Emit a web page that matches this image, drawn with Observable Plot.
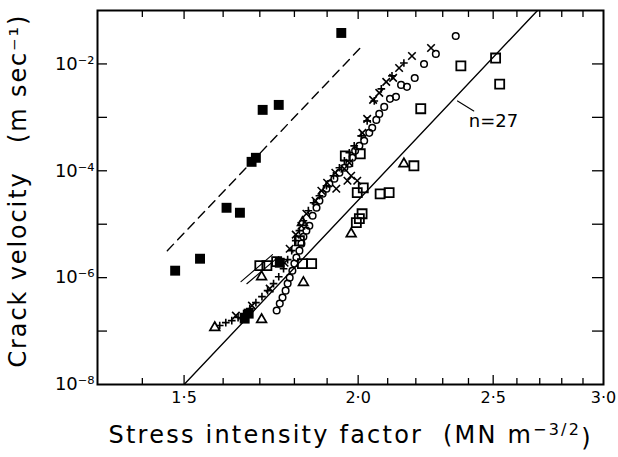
<!DOCTYPE html>
<html>
<head>
<meta charset="utf-8">
<script src="https://cdn.jsdelivr.net/npm/d3@7"></script>
<script src="https://cdn.jsdelivr.net/npm/@observablehq/plot@0.6"></script>
<style>
  html, body { margin: 0; padding: 0; background: #fff; }
  #chart { width: 618px; height: 457px; }
</style>
</head>
<body>
<div id="chart"></div>
<script>
// ---------- data (stress intensity factor K, crack velocity v) ----------
const filledK = [1.478, 1.540, 1.609, 1.645, 1.677, 1.689, 1.708, 1.754, 1.945, 1.658, 1.669, 1.757];
const filledV = [1.35e-6, 2.26e-6, 2.03e-5, 1.64e-5, 1.47e-4, 1.75e-4, 1.38e-3, 1.71e-3, 3.8e-2, 1.71e-7, 2.12e-7, 1.9e-6];

const openSqK = [2.370, 2.510, 2.527, 2.218, 2.193, 2.074, 2.105, 2.017, 1.997, 2.004, 2.013, 1.994, 1.958, 2.007, 1.700, 1.720, 1.748, 1.824, 1.852, 1.815];
const openSqV = [9.2e-3, 1.29e-2, 4.2e-3, 1.45e-3, 1.24e-4, 3.7e-5, 3.9e-5, 4.8e-5, 3.9e-5, 1.27e-5, 1.57e-5, 1.07e-5, 1.9e-4, 2.08e-4, 1.68e-6, 1.68e-6, 2.0e-6, 1.83e-6, 1.83e-6, 4.9e-6];

const triK = [1.578, 1.705, 1.705, 1.827, 1.824, 1.977, 2.157];
const triV = [1.16e-7, 1.64e-7, 1.04e-6, 8.1e-7, 1.07e-5, 6.6e-6, 1.35e-4];

const plusK = [1.591, 1.607, 1.623, 1.640, 1.655, 1.672, 1.689, 1.706, 1.722, 1.739, 1.754, 1.768, 1.780, 1.792, 1.804, 1.815, 1.827, 1.842, 1.858, 1.876, 1.898, 1.920, 1.939, 1.955, 1.971, 1.987, 2.010, 2.030, 2.054, 2.078, 2.115, 2.157];
const plusV = [1.27e-7, 1.44e-7, 1.57e-7, 1.79e-7, 2.12e-7, 2.64e-7, 3.41e-7, 4.42e-7, 5.71e-7, 7.73e-7, 1.04e-6, 1.47e-6, 2.17e-6, 3.2e-6, 4.92e-6, 7.57e-6, 1.16e-5, 1.79e-5, 2.52e-5, 3.41e-5, 5.25e-5, 8.07e-5, 1.14e-4, 1.54e-4, 2.17e-4, 2.93e-4, 4.51e-4, 8.6e-4, 2.03e-3, 3.41e-3, 5.97e-3, 1.04e-2];

const crossK = [1.634, 1.678, 1.728, 1.771, 1.786, 1.804, 1.821, 1.836, 1.864, 1.882, 1.900, 1.926, 1.929, 1.955, 1.971, 1.977, 1.965, 1.997, 2.014, 2.030, 2.050, 2.071, 2.095, 2.119, 2.140, 2.186, 2.256];
const crossV = [1.95e-7, 3.0e-7, 6.22e-7, 1.9e-6, 3.48e-6, 6.37e-6, 9.38e-6, 1.57e-5, 2.75e-5, 4.23e-5, 5.97e-5, 9.18e-5, 4.61e-5, 1.09e-4, 1.41e-4, 8.07e-5, 6.5e-5, 6.5e-5, 5.13e-4, 9.38e-4, 2.12e-3, 2.87e-3, 4.61e-3, 5.47e-3, 8.4e-3, 1.41e-2, 1.99e-2];

const circK = [1.748, 1.757, 1.765, 1.774, 1.780, 1.786, 1.794, 1.800, 1.806, 1.815, 1.821, 1.827, 1.836, 1.845, 1.855, 1.867, 1.876, 1.886, 1.898, 1.907, 1.923, 1.939, 1.955, 1.971, 1.981, 1.990, 2.004, 2.020, 2.037, 2.047, 2.061, 2.071, 2.088, 2.108, 2.129, 2.147, 2.168, 2.196, 2.230, 2.274, 2.350];
const circV = [2.42e-7, 3.27e-7, 4.23e-7, 5.71e-7, 7.73e-7, 1.0e-6, 1.35e-6, 1.83e-6, 2.37e-6, 3.2e-6, 4.33e-6, 5.84e-6, 7.57e-6, 9.38e-6, 1.44e-5, 2.03e-5, 2.75e-5, 3.72e-5, 4.61e-5, 5.71e-5, 7.08e-5, 9.18e-5, 1.14e-4, 1.35e-4, 1.75e-4, 2.37e-4, 2.93e-4, 3.64e-4, 5.13e-4, 6.37e-4, 8.97e-4, 1.16e-3, 1.57e-3, 2.22e-3, 2.42e-3, 4.05e-3, 3.72e-3, 5.47e-3, 1.0e-2, 1.54e-2, 3.33e-2];

// reference lines (slope n = 27)
const solidLineK = [1.5, 2.69];
const solidLineV = [1e-8, 1e-1];
const dashLineK = [1.459, 2.007];
const dashLineV = [3.2e-6, 1.99e-2];
const seg1K = [1.648, 1.736];
const seg1V = [8.4e-7, 2.69e-6];
const seg2K = [1.664, 1.754];
const seg2V = [7.7e-7, 2.47e-6];
const leaderK = [2.357, 2.421];
const leaderV = [2.03e-3, 1.32e-3];
const annotK = [2.401];
const annotV = [8.6e-4];
const annotText = ["n=27"];

// axes
const xDomain = [1.3, 3.0];
const yDomain = [1e-8, 1e-1];
const xMajorTicks = [1.5, 2.0, 2.5];
const xMinorTicks = [1.4, 1.6, 1.7, 1.8, 1.9, 2.1, 2.2, 2.3, 2.4, 2.6, 2.7, 2.8, 2.9];
const xLabelVals = [1.5, 2.0, 2.5, 3.0];
const xTickLabels = ["1·5", "2·0", "2·5", "3·0"];
const yTicks = [1e-7, 1e-6, 1e-5, 1e-4, 1e-3, 1e-2];
const yLabelVals = [1e-8, 1e-6, 1e-4, 1e-2];
const yTickLabels = ["10⁻⁸", "10⁻⁶", "10⁻⁴", "10⁻²"];
const xTitleMain = "Stress intensity factor  (MN m";
const xTitleSup = "−3/2";
const xTitleEnd = ")";
const yTitle = "Crack velocity   (m sec⁻¹)";

// ---------- build ----------
const zip = (ks, vs) => ks.map((k, i) => ({k, v: vs[i]}));
const W = 618, H = 457, mL = 97, mR = 15, mT = 10, mB = 73;
const iw = W - mL - mR, ih = H - mT - mB;

const svg = Plot.plot({
  width: W, height: H,
  marginLeft: mL, marginRight: mR, marginTop: mT, marginBottom: mB,
  x: {type: "log", domain: xDomain, axis: null},
  y: {type: "log", domain: yDomain, axis: null},
  style: {fontFamily: "DejaVu Sans", background: "white", color: "black"},
  marks: [
    // inward ticks
    Plot.tickY(yTicks, {y: d => d, insetRight: iw - 10, stroke: "black", strokeWidth: 1.3}),
    Plot.tickY(yTicks, {y: d => d, insetLeft: iw - 11, stroke: "black", strokeWidth: 1.3}),
    Plot.tickX(xMinorTicks, {x: d => d, insetTop: ih - 6, stroke: "black", strokeWidth: 1.3}),
    Plot.tickX(xMajorTicks, {x: d => d, insetTop: ih - 9, stroke: "black", strokeWidth: 1.3}),
    Plot.tickX(xMinorTicks, {x: d => d, insetBottom: ih - 7, stroke: "black", strokeWidth: 1.3}),
    Plot.tickX(xMajorTicks, {x: d => d, insetBottom: ih - 9, stroke: "black", strokeWidth: 1.3}),
    // tick labels
    Plot.text(yLabelVals, {y: d => d, frameAnchor: "left", dx: -3, textAnchor: "end",
      text: (d, i) => yTickLabels[i], fontSize: 18, fill: "black"}),
    Plot.text(xLabelVals, {x: d => d, frameAnchor: "bottom", dy: 18,
      text: (d, i) => xTickLabels[i], fontSize: 16, fill: "black"}),
    // titles
    Plot.text([yTitle], {frameAnchor: "bottom-left", dx: -72, dy: -17, rotate: -90, textAnchor: "start",
      text: d => d, fontSize: 24, fill: "black"}),
    Plot.text([xTitleMain], {frameAnchor: "bottom-left", dx: 11, dy: 58, textAnchor: "start",
      text: d => d, fontSize: 24, fill: "black"}),
    // lines
    Plot.line(zip(solidLineK, solidLineV), {x: "k", y: "v", stroke: "black", strokeWidth: 1.4, clip: true}),
    Plot.line(zip(dashLineK, dashLineV), {x: "k", y: "v", stroke: "black", strokeWidth: 1.4, strokeDasharray: "9,6"}),
    Plot.line(zip(seg1K, seg1V), {x: "k", y: "v", stroke: "black", strokeWidth: 1.1}),
    Plot.line(zip(seg2K, seg2V), {x: "k", y: "v", stroke: "black", strokeWidth: 1.1}),
    Plot.line(zip(leaderK, leaderV), {x: "k", y: "v", stroke: "black", strokeWidth: 1.1}),
    Plot.text(zip(annotK, annotV), {x: "k", y: "v", text: (d, i) => annotText[i], textAnchor: "start",
      fontSize: 18, fill: "black"}),
    // data
    Plot.dot(zip(circK, circV), {x: "k", y: "v", symbol: "circle", r: 3.3, fill: "none", stroke: "black", strokeWidth: 1.5}),
    Plot.dot(zip(crossK, crossV), {x: "k", y: "v", symbol: "times", r: 3.5, stroke: "black", strokeWidth: 1.6}),
    Plot.dot(zip(plusK, plusV), {x: "k", y: "v", symbol: "plus", r: 2.6, stroke: "black", strokeWidth: 1.6}),
    Plot.dot(zip(openSqK, openSqV), {x: "k", y: "v", symbol: "square", r: 5.1, fill: "none", stroke: "black", strokeWidth: 1.8}),
    Plot.dot(zip(triK, triV), {x: "k", y: "v", symbol: "triangle", r: 3.6, fill: "none", stroke: "black", strokeWidth: 1.7}),
    Plot.dot(zip(filledK, filledV), {x: "k", y: "v", symbol: "square", r: 5.6, fill: "black", stroke: "none"}),
    Plot.frame({stroke: "black", strokeWidth: 2})
  ]
});

const findText = s => d3.select(svg).selectAll("text").filter(function () { return this.textContent === s; });

// x title with superscript exponent, stretched to the reference width
const xt = findText(xTitleMain);
xt.text(null).style("white-space", "pre");
xt.append("tspan").text(xTitleMain);
xt.append("tspan").attr("font-size", 16).attr("dy", "-0.45em").text(xTitleSup);
xt.append("tspan").attr("dy", "0.45em").text(xTitleEnd);
xt.attr("textLength", 482).attr("lengthAdjust", "spacing");

const yt = findText(yTitle);
yt.style("white-space", "pre").attr("textLength", 352).attr("lengthAdjust", "spacing");

document.getElementById("chart").appendChild(svg);
</script>
</body>
</html>
